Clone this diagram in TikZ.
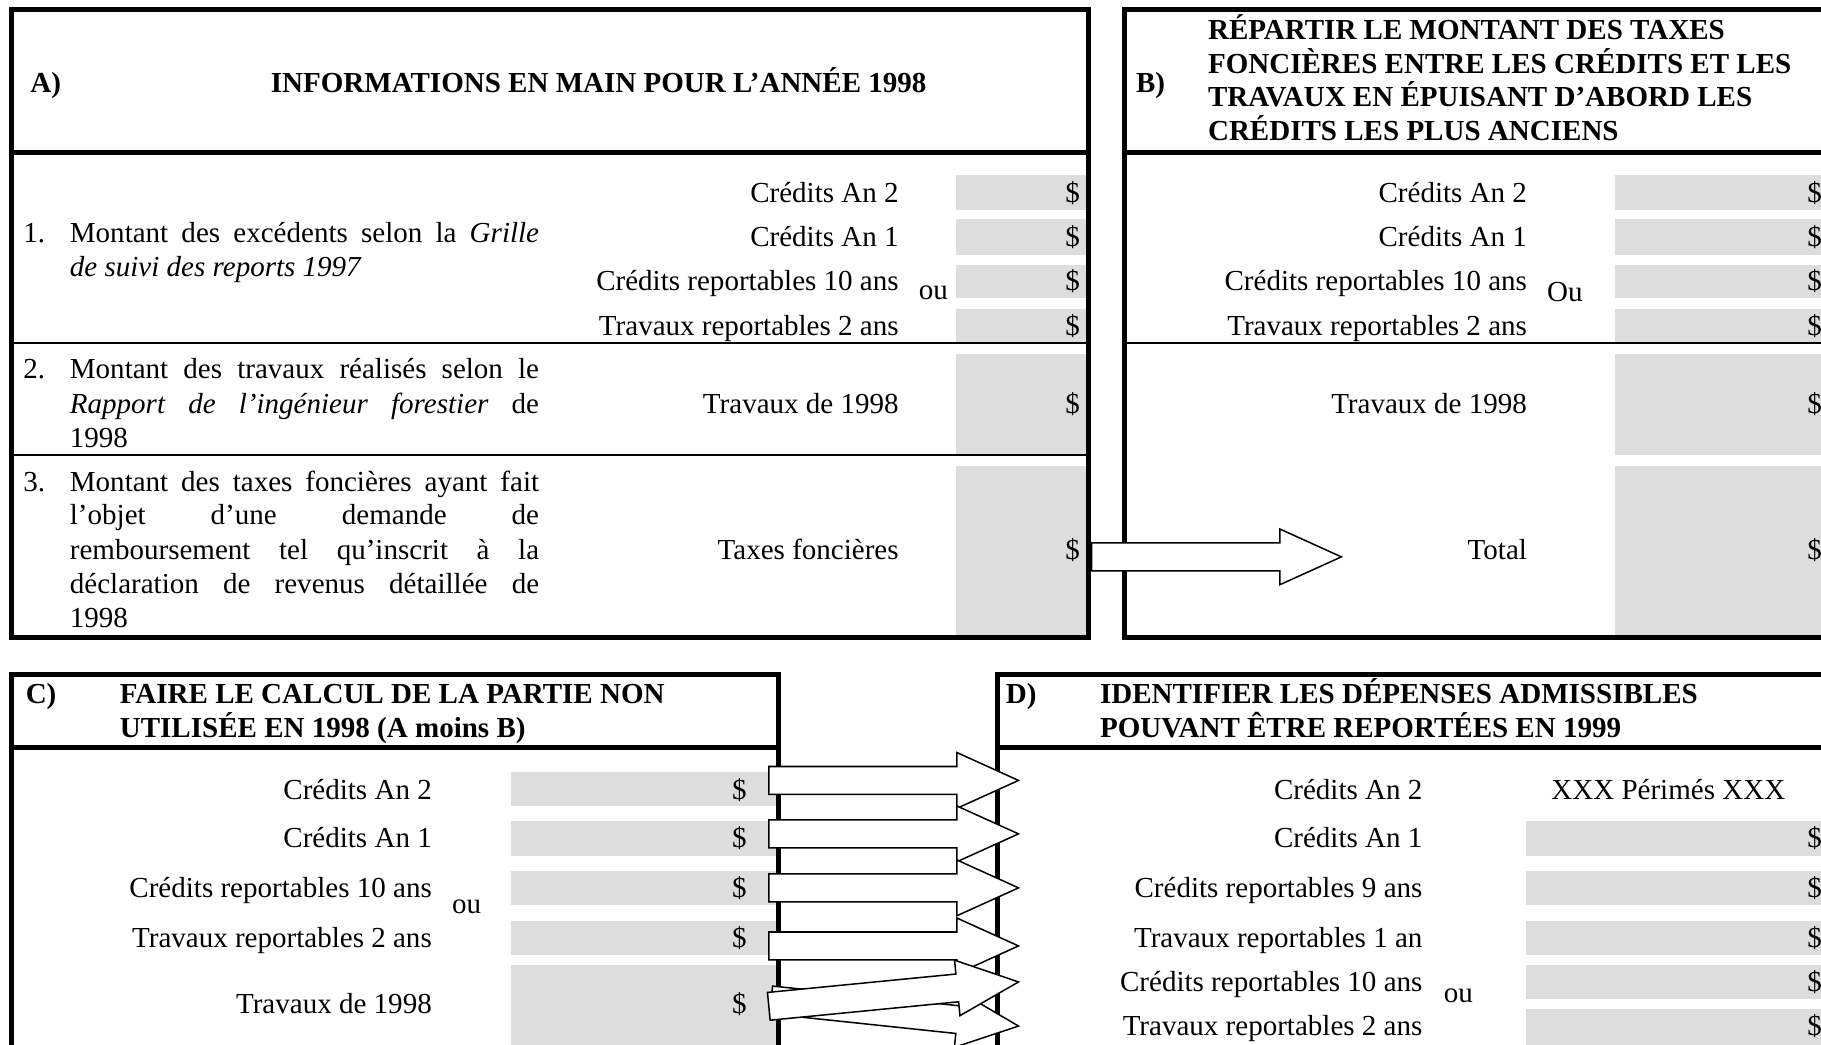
\documentclass[tikz,border=0pt]{standalone}
\usepackage{fontspec}
\setmainfont{Liberation Serif}
\usetikzlibrary{calc}
\definecolor{cellgray}{RGB}{221,221,221}
\tikzset{
  thickframe/.style={line width=4.3pt, draw=black, line join=miter},
  thinrule/.style={line width=1.5pt, draw=black},
  cell/.style={fill=cellgray},
  txt/.style={inner sep=0pt, font=\fontsize{25pt}{29pt}\selectfont},
  lblr/.style={txt, anchor=base east},
  lbll/.style={txt, anchor=base west},
  hdr/.style={txt, anchor=base west, font=\fontsize{25pt}{29pt}\selectfont\bfseries},
  hdrc/.style={txt, anchor=base, font=\fontsize{25pt}{29pt}\selectfont\bfseries},
  fatarrow/.style={draw=black, fill=white, line width=1.3pt, line join=miter},
}
\newcommand\fatarr[2]{%
  \coordinate (fa-b) at ($(#2)!53pt!(#1)$);
  \filldraw[fatarrow]
    ($(#1)!12pt!90:(#2)$) --
    ($(fa-b)!12pt!-90:(#1)$) --
    ($(fa-b)!24pt!-90:(#1)$) --
    (#2) --
    ($(fa-b)!24pt!90:(#1)$) --
    ($(fa-b)!12pt!90:(#1)$) --
    ($(#1)!12pt!-90:(#2)$) -- cycle;
}
\newcommand\jline[1]{\makebox[404pt][s]{#1}}
\begin{document}
\begin{tikzpicture}[x=1pt,y=-1pt]
\useasboundingbox (0,0) rectangle (1568,899);
\clip (0,0) rectangle (1568,899);
% ---------- grey cells ----------
\fill[cell] (823,151) rectangle (935.5,181);
\fill[cell] (823,189) rectangle (935.5,220);
\fill[cell] (823,228) rectangle (935.5,257);
\fill[cell] (823,266) rectangle (935.5,295);
\fill[cell] (823,305) rectangle (935.5,392);
\fill[cell] (823,401) rectangle (935.5,547);
\fill[cell] (1391,151) rectangle (1600,181);
\fill[cell] (1391,189) rectangle (1600,220);
\fill[cell] (1391,228) rectangle (1600,257);
\fill[cell] (1391,266) rectangle (1600,295);
\fill[cell] (1391,305) rectangle (1600,392);
\fill[cell] (1391,401) rectangle (1600,547);
\fill[cell] (440,665) rectangle (668,694);
\fill[cell] (440,707) rectangle (668,737);
\fill[cell] (440,750) rectangle (668,779);
\fill[cell] (440,793) rectangle (668,822);
\fill[cell] (440,831) rectangle (668,910);
\fill[cell] (1314,707) rectangle (1600,737);
\fill[cell] (1314,750) rectangle (1600,779);
\fill[cell] (1314,793) rectangle (1600,822);
\fill[cell] (1314,831) rectangle (1600,860);
\fill[cell] (1314,869) rectangle (1600,910);
% ---------- rules ----------
\draw[thinrule] (10,295.5) -- (937.5,295.5);
\draw[thinrule] (10,392) -- (937.5,392);
\draw[thinrule] (968.5,295.5) -- (1600,295.5);
% ---------- frames ----------
\draw[thickframe] (10,8.5) rectangle (937.5,549);
\draw[thickframe] (10,131) -- (937.5,131);
\draw[thickframe] (968.5,8.5) rectangle (1620,549);
\draw[thickframe] (968.5,131) -- (1620,131);
\draw[thickframe] (10,920) -- (10,580.5) -- (670,580.5) -- (670,920);
\draw[thickframe] (10,643.5) -- (670,643.5);
\draw[thickframe] (1620,580.5) -- (859,580.5) -- (859,920);
\draw[thickframe] (859,643.5) -- (1620,643.5);
% ---------- A ----------
\node[hdr] (Alet) at (26,80) {A)};
\node[hdrc] (Atitle) at (515.5,80) {INFORMATIONS EN MAIN POUR L’ANNÉE 1998};
\node[lbll] (n1) at (20,209) {1.};
\node[lbll] (i1a) at (60,209) {\jline{Montant des excédents selon la \textit{Grille}}};
\node[lbll] (i1b) at (60,238) {\textit{de suivi des reports 1997}};
\node[lbll] (n2) at (20,326) {2.};
\node[lbll] (i2a) at (60,326) {\jline{Montant des travaux réalisés selon le}};
\node[lbll] (i2b) at (60,356) {\jline{\textit{Rapport de l’ingénieur forestier} de}};
\node[lbll] (i2c) at (60,385) {1998};
\node[lbll] (n3) at (20,423) {3.};
\node[lbll] (i3a) at (60,423) {\jline{Montant des taxes foncières ayant fait}};
\node[lbll] (i3b) at (60,452) {\jline{l’objet d’une demande de}};
\node[lbll] (i3c) at (60,482) {\jline{remboursement tel qu’inscrit à la}};
\node[lbll] (i3d) at (60,511) {\jline{déclaration de revenus détaillée de}};
\node[lbll] (i3e) at (60,540) {1998};
\node[lblr] (Al1) at (774,174) {Crédits An 2};
\node[lblr] (Al2) at (774,212.5) {Crédits An 1};
\node[lblr] (Al3) at (774,250.5) {Crédits reportables 10 ans};
\node[lblr] (Al4) at (774,288.5) {Travaux reportables 2 ans};
\node[lbll] (Aou) at (791,258) {ou};
\node[lblr] (Al5) at (774,356) {Travaux de 1998};
\node[lblr] (Al6) at (774,482) {Taxes foncières};
\foreach \y/\n in {174/1,212.5/2,250.5/3,288.5/4,356/5,482/6}
  \node[lblr] (Ad\n) at (930,\y) {\$};
% ---------- B ----------
\node[hdr] (Blet) at (978,80) {B)};
\node[hdr] (Bt1) at (1040,34) {RÉPARTIR LE MONTANT DES TAXES};
\node[hdr] (Bt2) at (1040,63) {FONCIÈRES ENTRE LES CRÉDITS ET LES};
\node[hdr] (Bt3) at (1040,92) {TRAVAUX EN ÉPUISANT D’ABORD LES};
\node[hdr] (Bt4) at (1040,121) {CRÉDITS LES PLUS ANCIENS};
\node[lblr] (Bl1) at (1315,174) {Crédits An 2};
\node[lblr] (Bl2) at (1315,212.5) {Crédits An 1};
\node[lblr] (Bl3) at (1315,250.5) {Crédits reportables 10 ans};
\node[lblr] (Bl4) at (1315,288.5) {Travaux reportables 2 ans};
\node[lbll] (Bou) at (1332,260) {Ou};
\node[lblr] (Bl5) at (1315,356) {Travaux de 1998};
\node[lblr] (Bl6) at (1315,482) {Total};
\foreach \y/\n in {174/1,212.5/2,250.5/3,288.5/4,356/5,482/6}
  \node[lblr] (Bd\n) at (1569,\y) {\$};
% ---------- C ----------
\node[hdr] (Clet) at (22,606) {C)};
\node[hdr] (Ct1) at (103,606) {FAIRE LE CALCUL DE LA PARTIE NON};
\node[hdr] (Ct2) at (103,635) {UTILISÉE EN 1998 (A moins B)};
\node[lblr] (Cl1) at (372,688) {Crédits An 2};
\node[lblr] (Cl2) at (372,730) {Crédits An 1};
\node[lblr] (Cl3) at (372,773) {Crédits reportables 10 ans};
\node[lblr] (Cl4) at (372,816) {Travaux reportables 2 ans};
\node[lbll] (Cou) at (389,787) {ou};
\node[lblr] (Cl5) at (372,873) {Travaux de 1998};
\foreach \y/\n in {688/1,730/2,773/3,816/4,873/5}
  \node[lblr] (Cd\n) at (643,\y) {\$};
% ---------- D ----------
\node[hdr] (Dlet) at (866,606) {D)};
\node[hdr] (Dt1) at (947,606) {IDENTIFIER LES DÉPENSES ADMISSIBLES};
\node[hdr] (Dt2) at (947,635) {POUVANT ÊTRE REPORTÉES EN 1999};
\node[lblr] (Dl1) at (1225,688) {Crédits An 2};
\node[lblr] (Dl2) at (1225,730) {Crédits An 1};
\node[lblr] (Dl3) at (1225,773) {Crédits reportables 9 ans};
\node[lblr] (Dl4) at (1225,816) {Travaux reportables 1 an};
\node[lblr] (Dl5) at (1225,854) {Crédits reportables 10 ans};
\node[lblr] (Dl6) at (1225,892) {Travaux reportables 2 ans};
\node[lbll] (Dou) at (1243,863) {ou};
\node[txt, anchor=base] (Dperim) at (1436.5,688) {XXX Périmés XXX};
\foreach \y/\n in {730/2,772.5/3,815.5/4,853.5/5,892/6}
  \node[lblr] (Dd\n) at (1569,\y) {\$};
% ---------- arrows ----------
\coordinate (AtaxOut) at (940,479.5);
\coordinate (BtotIn) at (1155,479.5);
\coordinate (Co1) at (662,672);   \coordinate (Di1) at (877,672);
\coordinate (Co2) at (662,718);   \coordinate (Di2) at (877,718);
\coordinate (Co3) at (662,764.5); \coordinate (Di3) at (877,764.5);
\coordinate (Co4) at (662,814.5); \coordinate (Di4) at (877,814.5);
\coordinate (Co6) at (664,861);   \coordinate (Di6) at (877,883.5);
\coordinate (Co5) at (662,866.5); \coordinate (Di5) at (877,845.5);
\fatarr{AtaxOut}{BtotIn}
\fatarr{Co1}{Di1}
\fatarr{Co2}{Di2}
\fatarr{Co3}{Di3}
\fatarr{Co4}{Di4}
\fatarr{Co6}{Di6}
\fatarr{Co5}{Di5}
\end{tikzpicture}
\end{document}
